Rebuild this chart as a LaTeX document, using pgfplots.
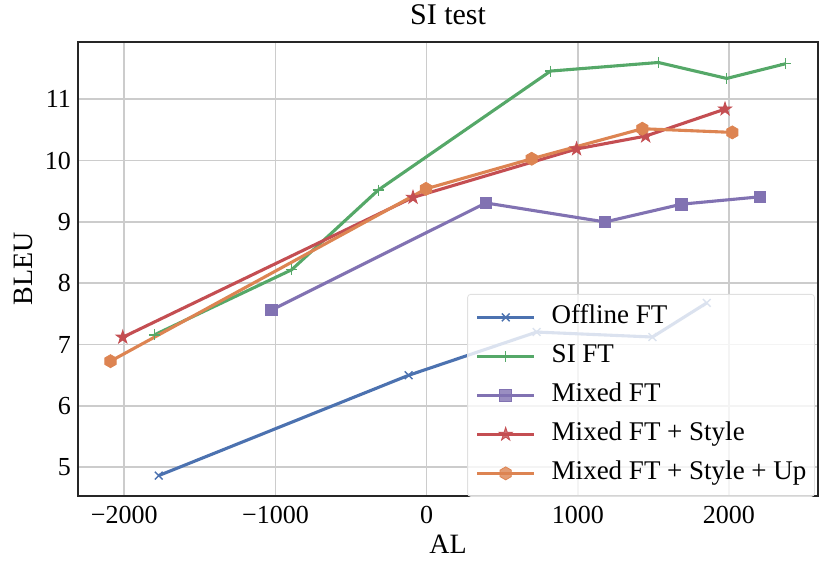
\documentclass[border=0pt]{standalone}
\usepackage{pgfplots}
\pgfplotsset{compat=1.18}
\usepackage{fontspec}
\setmainfont{Liberation Serif}
\definecolor{sblue}{HTML}{4C72B0}
\definecolor{sgreen}{HTML}{55A868}
\definecolor{sred}{HTML}{C44E52}
\definecolor{spurple}{HTML}{8172B2}
\definecolor{sorange}{HTML}{DD8452}
\definecolor{gridc}{HTML}{CCCCCC}
\definecolor{framec}{HTML}{262626}

\pgfdeclareplotmark{hexmark}{%
 \pgfpathmoveto{\pgfqpointpolar{90}{\pgfplotmarksize}}%
 \pgfpathlineto{\pgfqpointpolar{150}{\pgfplotmarksize}}%
 \pgfpathlineto{\pgfqpointpolar{210}{\pgfplotmarksize}}%
 \pgfpathlineto{\pgfqpointpolar{270}{\pgfplotmarksize}}%
 \pgfpathlineto{\pgfqpointpolar{330}{\pgfplotmarksize}}%
 \pgfpathlineto{\pgfqpointpolar{30}{\pgfplotmarksize}}%
 \pgfpathclose\pgfusepathqfillstroke}

\newdimen\starin
\pgfdeclareplotmark{fstar}{%
 \starin=0.382\pgfplotmarksize
 \pgfpathmoveto{\pgfqpointpolar{90}{\pgfplotmarksize}}%
 \pgfpathlineto{\pgfqpointpolar{126}{\starin}}%
 \pgfpathlineto{\pgfqpointpolar{162}{\pgfplotmarksize}}%
 \pgfpathlineto{\pgfqpointpolar{198}{\starin}}%
 \pgfpathlineto{\pgfqpointpolar{234}{\pgfplotmarksize}}%
 \pgfpathlineto{\pgfqpointpolar{270}{\starin}}%
 \pgfpathlineto{\pgfqpointpolar{306}{\pgfplotmarksize}}%
 \pgfpathlineto{\pgfqpointpolar{342}{\starin}}%
 \pgfpathlineto{\pgfqpointpolar{18}{\pgfplotmarksize}}%
 \pgfpathlineto{\pgfqpointpolar{54}{\starin}}%
 \pgfpathclose\pgfusepathqfillstroke}

\begin{document}
\begin{tikzpicture}
\begin{axis}[
 scale only axis, width=740bp, height=454bp,
 xmin=-2306, xmax=2589, ymin=4.532, ymax=11.934,
 xtick={-2000,-1000,0,1000,2000},
 xticklabels={−2000,−1000,0,1000,2000},
 ytick={5,6,7,8,9,10,11},
 grid=major, major grid style={gridc, line width=1.7bp},
 major tick length=0pt,
 axis line style={framec, line width=1.4bp},
 /pgf/number format/assume math mode=true,
 tick label style={font=\fontsize{26bp}{30bp}\selectfont},
 xticklabel style={anchor=base, yshift=-27bp, inner sep=0pt},
 yticklabel style={anchor=east, xshift=-7bp, inner sep=0pt},
 title={SI test},
 title style={font=\fontsize{30bp}{34bp}\selectfont, at={([yshift=11.3bp]axis description cs:0.5,1)}, anchor=base, inner sep=0pt},
 xlabel={AL},
 xlabel style={font=\fontsize{28bp}{34bp}\selectfont, at={([yshift=-57bp]axis description cs:0.5,0)}, anchor=base, inner sep=0pt},
 ylabel={BLEU},
 ylabel style={font=\fontsize{28bp}{34bp}\selectfont, at={([xshift=-45bp]axis description cs:0,0.5)}, anchor=base, inner sep=0pt},
 legend style={at={(0.526,0.445)}, anchor=north west,
   font=\fontsize{27bp}{32bp}\selectfont,
   draw=gridc!60, line width=0.8bp, fill=white, fill opacity=0.8, draw opacity=1, text opacity=1,
   rounded corners=3bp, inner xsep=8bp, inner ysep=11bp, row sep=15bp, column sep=16bp,
   cells={anchor=west}, nodes={inner sep=0pt, text height=18bp, text depth=6bp}},
 legend image code/.code={\draw[mark repeat=2, mark phase=2] plot coordinates {(0bp,0bp) (28.5bp,0bp) (57bp,0bp)};},
]
\addplot[sblue, line width=3.1bp, mark=x, mark size=5.5bp, mark options={line width=1.4bp}] coordinates {
 (-1772,4.865) (-119,6.50) (728,7.205) (1494,7.124) (1853,7.68)};
\addlegendentry{Offline FT}
\addplot[sgreen, line width=3.1bp, mark=+, mark size=5.5bp, mark options={line width=1.4bp}] coordinates {
 (-1800,7.16) (-893,8.22) (-320,9.52) (820,11.46) (1533,11.60) (1985,11.34) (2375,11.58)};
\addlegendentry{SI FT}
\addplot[spurple, line width=3.1bp, mark=square*, mark size=5.8bp, mark options={line width=0.8bp}] coordinates {
 (-1025,7.565) (392,9.31) (1180,9.0) (1687,9.29) (2205,9.41)};
\addlegendentry{Mixed FT}
\addplot[sred, line width=3.1bp, mark=fstar, mark size=7bp, mark options={line width=0.8bp}] coordinates {
 (-2010,7.12) (-90,9.40) (992,10.19) (1449,10.40) (1974,10.84)};
\addlegendentry{Mixed FT + Style}
\addplot[sorange, line width=3.1bp, mark=hexmark, mark size=6.5bp, mark options={line width=0.8bp}] coordinates {
 (-2091,6.73) (-4,9.54) (695,10.03) (1427,10.52) (2022,10.46)};
\addlegendentry{Mixed FT + Style + Up}
\coordinate (BL) at (rel axis cs:0,0);
\coordinate (TR) at (rel axis cs:1,1);
\end{axis}
\path (BL) ++(-78bp,-77bp) coordinate (P1);
\path (TR) ++(13bp,42bp) coordinate (P2);
\pgfresetboundingbox
\useasboundingbox (P1) rectangle (P2);
\end{tikzpicture}
\end{document}
